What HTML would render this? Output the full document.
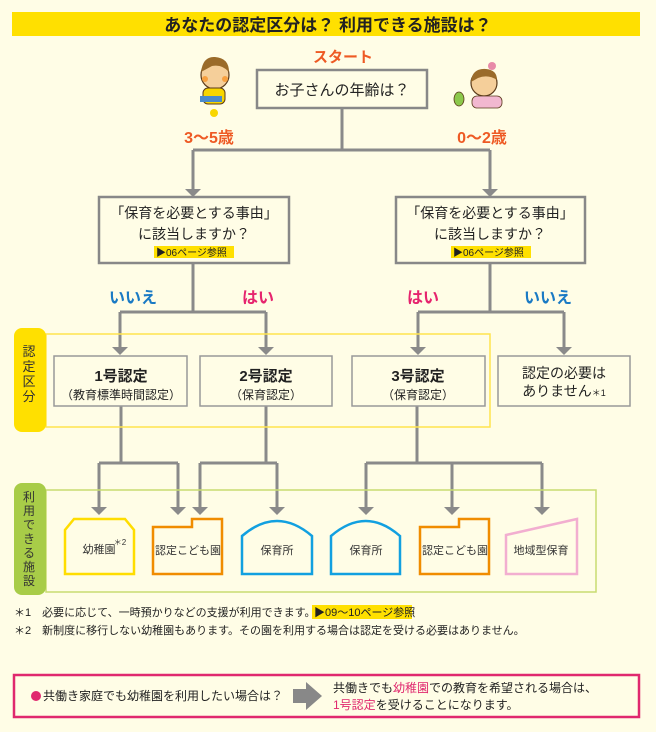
<!DOCTYPE html>
<html><head><meta charset="utf-8"><style>
html,body{margin:0;padding:0;background:#fffde6;}
svg{display:block;font-family:"Liberation Sans","Noto Sans CJK JP",sans-serif;}
</style></head><body>
<svg width="656" height="732" viewBox="0 0 656 732" xmlns="http://www.w3.org/2000/svg">
<rect width="656" height="732" fill="#fffde6"/>
<rect x="12" y="12" width="628" height="24" fill="#ffe000"/>
<text x="328" y="31" font-size="17" font-weight="bold" text-anchor="middle" fill="#222">あなたの認定区分は？ 利用できる施設は？</text>

<text x="343" y="62" font-size="15" font-weight="bold" text-anchor="middle" fill="#ee5a24">スタート</text>
<!-- kids -->
<g>
<circle cx="215" cy="75" r="14" fill="#f5cf9a" stroke="#5a3a1a" stroke-width="1.2"/>
<path d="M201 72 Q203 56 215 57 Q229 58 229 72 Q222 64 212 66 Z" fill="#9a6b2a"/>
<circle cx="205" cy="79" r="3" fill="#f7a040"/><circle cx="225" cy="79" r="3" fill="#f7a040"/>
<rect x="203" y="88" width="22" height="16" rx="5" fill="#f8d600" stroke="#5a3a1a"/>
<rect x="200" y="96" width="22" height="6" fill="#4a8acb"/>
<circle cx="214" cy="113" r="4" fill="#f8d600"/>
<circle cx="484" cy="83" r="13" fill="#f5cf9a" stroke="#5a3a1a" stroke-width="1.2"/>
<path d="M471 82 Q472 68 486 69 Q497 70 497 80 Q488 74 478 78 Z" fill="#9a6b2a"/>
<circle cx="492" cy="66" r="4" fill="#e88aa8"/>
<rect x="472" y="96" width="30" height="12" rx="5" fill="#f2b8d0" stroke="#5a3a1a" stroke-width="0.8"/>
<ellipse cx="459" cy="99" rx="5" ry="7" fill="#8cc84b" stroke="#5a3a1a" stroke-width="0.8"/>
</g>

<rect x="257" y="70" width="170" height="38" fill="#fffde6" stroke="#888" stroke-width="2.5"/>
<text x="342" y="95" font-size="15" text-anchor="middle" fill="#222">お子さんの年齢は？</text>

<text x="209" y="143" font-size="16" font-weight="bold" text-anchor="middle" fill="#ee5a24">3～5歳</text>
<text x="482" y="143" font-size="16" font-weight="bold" text-anchor="middle" fill="#ee5a24">0～2歳</text>

<g stroke="#8a8a8a" stroke-width="3" fill="none">
<path d="M342 108 V150 M193 150 H490 M193 150 V190 M490 150 V190"/>
<path d="M193 263 V312 M120 312 H266 M120 312 V348 M266 312 V348"/>
<path d="M490 263 V312 M418 312 H564 M418 312 V348 M564 312 V348"/>
<path d="M121 406 V463 M99 463 H178 M99 463 V508 M178 463 V508"/>
<path d="M266 406 V463 M200 463 H277 M200 463 V508 M277 463 V508"/>
<path d="M417 406 V463 M366 463 H542 M366 463 V508 M452 463 V508 M542 463 V508"/>
</g>
<g fill="#8a8a8a">
<path d="M185 189 H201 L193 197 Z"/><path d="M482 189 H498 L490 197 Z"/>
<path d="M112 347 H128 L120 355 Z"/><path d="M258 347 H274 L266 355 Z"/>
<path d="M410 347 H426 L418 355 Z"/><path d="M556 347 H572 L564 355 Z"/>
<path d="M91 507 H107 L99 515 Z"/><path d="M170 507 H186 L178 515 Z"/>
<path d="M192 507 H208 L200 515 Z"/><path d="M269 507 H285 L277 515 Z"/>
<path d="M358 507 H374 L366 515 Z"/><path d="M444 507 H460 L452 515 Z"/><path d="M534 507 H550 L542 515 Z"/>
</g>

<g fill="#fffde6" stroke="#888" stroke-width="2.5">
<rect x="99" y="197" width="190" height="66"/>
<rect x="396" y="197" width="189" height="66"/>
</g>
<g font-size="14" text-anchor="middle" fill="#222">
<text x="194" y="218">「保育を必要とする事由」</text>
<text x="194" y="239">に該当しますか？</text>
<text x="490" y="218">「保育を必要とする事由」</text>
<text x="490" y="239">に該当しますか？</text>
</g>
<rect x="154" y="246" width="80" height="12" fill="#ffe000"/>
<rect x="451" y="246" width="80" height="12" fill="#ffe000"/>
<g font-size="10" fill="#222"><text x="156" y="256">▶06ページ参照</text><text x="453" y="256">▶06ページ参照</text></g>

<g font-size="16" font-weight="bold" text-anchor="middle">
<text x="133" y="303" fill="#1a7ac4">いいえ</text>
<text x="258" y="303" fill="#e6246e">はい</text>
<text x="423" y="303" fill="#e6246e">はい</text>
<text x="548" y="303" fill="#1a7ac4">いいえ</text>
</g>

<rect x="46" y="334" width="444" height="93" fill="none" stroke="#ffe44d" stroke-width="1.5"/>
<rect x="14" y="328" width="32" height="104" rx="8" fill="#ffe000"/>
<text font-size="13" fill="#333" text-anchor="middle"><tspan x="29" y="356">認</tspan><tspan x="29" y="371">定</tspan><tspan x="29" y="386">区</tspan><tspan x="29" y="401">分</tspan></text>

<g fill="#fffde6" stroke="#999" stroke-width="1.5">
<rect x="54" y="356" width="133" height="50"/><rect x="200" y="356" width="132" height="50"/>
<rect x="352" y="356" width="133" height="50"/><rect x="498" y="356" width="132" height="50"/>
</g>
<g text-anchor="middle" fill="#222">
<text x="121" y="381" font-size="15" font-weight="bold">1号認定</text>
<text x="121" y="399" font-size="12">（教育標準時間認定）</text>
<text x="266" y="381" font-size="15" font-weight="bold">2号認定</text>
<text x="266" y="399" font-size="12">（保育認定）</text>
<text x="418" y="381" font-size="15" font-weight="bold">3号認定</text>
<text x="418" y="399" font-size="12">（保育認定）</text>
<text x="564" y="378" font-size="14">認定の必要は</text>
<text x="564" y="396" font-size="14">ありません<tspan font-size="9">＊1</tspan></text>
</g>

<rect x="46" y="490" width="550" height="102" fill="none" stroke="#c8dc70" stroke-width="1.5"/>
<rect x="14" y="483" width="32" height="112" rx="8" fill="#a8cc48"/>
<text font-size="12" fill="#333" text-anchor="middle"><tspan x="29" y="501">利</tspan><tspan x="29" y="515">用</tspan><tspan x="29" y="529">で</tspan><tspan x="29" y="543">き</tspan><tspan x="29" y="557">る</tspan><tspan x="29" y="571">施</tspan><tspan x="29" y="585">設</tspan></text>

<g stroke-width="2.5" fill="#fffde6">
<path d="M74 519 H125 L134 530 V574 H65 V530 Z" stroke="#ffdd00"/>
<path d="M153 527 H192 V519 H222 V574 H153 Z" stroke="#f08c00"/>
<path d="M242 574 V536 Q277 506 312 536 V574 Z" stroke="#12a0e0"/>
<path d="M331 574 V536 Q366 506 400 536 V574 Z" stroke="#12a0e0"/>
<path d="M420 527 H459 V519 H489 V574 H420 Z" stroke="#f08c00"/>
<path d="M506 535 L577 519 V574 H506 Z" stroke="#f2aed0"/>
</g>
<g font-size="11" fill="#333" text-anchor="middle">
<text x="99" y="553">幼稚園</text><text x="120" y="545" font-size="8">＊2</text>
<text x="188" y="554">認定こども園</text>
<text x="277" y="554">保育所</text>
<text x="366" y="554">保育所</text>
<text x="455" y="554">認定こども園</text>
<text x="541" y="554">地域型保育</text>
</g>

<g font-size="11" fill="#222">
<text x="14" y="616">＊1　必要に応じて、一時預かりなどの支援が利用できます。</text>
<rect x="312" y="605" width="100" height="14" fill="#ffe000"/>
<text x="314" y="616">▶09～10ページ参照</text>
<text x="14" y="634">＊2　新制度に移行しない幼稚園もあります。その園を利用する場合は認定を受ける必要はありません。</text>
</g>

<rect x="14" y="675" width="625" height="42" fill="#fffde6" stroke="#e0286e" stroke-width="2.5"/>
<circle cx="36" cy="696" r="5" fill="#e0286e"/>
<text x="43" y="700" font-size="12" fill="#222">共働き家庭でも幼稚園を利用したい場合は？</text>
<path d="M293 689 H306 V682 L322 696 L306 710 V703 H293 Z" fill="#888"/>
<g font-size="12" fill="#222">
<text x="333" y="692">共働きでも<tspan fill="#e0286e">幼稚園</tspan>での教育を希望される場合は、</text>
<text x="333" y="709"><tspan fill="#e0286e">1号認定</tspan>を受けることになります。</text>
</g>
</svg>
</body></html>
